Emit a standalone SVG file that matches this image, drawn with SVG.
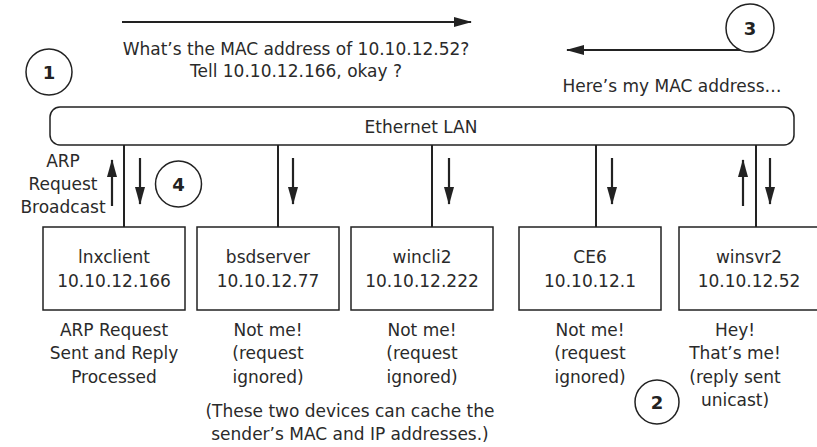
<svg xmlns="http://www.w3.org/2000/svg" width="817" height="447" viewBox="0 0 817 447">
<defs>
<style>
text{font-family:"DejaVu Sans","Liberation Sans",sans-serif;font-size:17px;fill:#2a2a2a;text-anchor:middle}
.num{font-weight:bold;font-size:18px;fill:#222}
.box{fill:#fff;stroke:#222;stroke-width:1.5}
.ln{stroke:#222;stroke-width:2;fill:none}
.arr{stroke:#222;stroke-width:2.2;fill:none;marker-end:url(#ah)}
.circ{fill:#fff;stroke:#222;stroke-width:1.5}
</style>
<marker id="ah" markerWidth="18" markerHeight="10" refX="17" refY="5" orient="auto" markerUnits="userSpaceOnUse">
<path d="M0,0 L18,5 L0,10 Z" fill="#222"/>
</marker>
</defs>

<g id="lan">
<rect class="box" x="50" y="107" width="744" height="38" rx="10"/>
<text x="421" y="133">Ethernet LAN</text>
</g>

<g id="connectors">
<line class="ln" x1="124" y1="145" x2="124" y2="227"/>
<line class="ln" x1="278" y1="145" x2="278" y2="227"/>
<line class="ln" x1="432" y1="145" x2="432" y2="227"/>
<line class="ln" x1="596" y1="145" x2="596" y2="227"/>
<line class="ln" x1="756" y1="145" x2="756" y2="227"/>
<line class="arr" x1="112" y1="206" x2="112" y2="160"/>
<line class="arr" x1="140" y1="158" x2="140" y2="204"/>
<line class="arr" x1="293" y1="158" x2="293" y2="204"/>
<line class="arr" x1="449" y1="158" x2="449" y2="204"/>
<line class="arr" x1="612" y1="158" x2="612" y2="204"/>
<line class="arr" x1="743" y1="206" x2="743" y2="160"/>
<line class="arr" x1="770" y1="158" x2="770" y2="204"/>
<line class="arr" x1="122" y1="22" x2="471" y2="22"/>
<line class="arr" x1="742" y1="50" x2="567" y2="50"/>
</g>

<g id="request-label">
<text x="296" y="55">What’s the MAC address of 10.10.12.52?</text>
<text x="296" y="77">Tell 10.10.12.166, okay ?</text>
</g>
<g id="reply-label">
<text x="672" y="92">Here’s my MAC address…</text>
</g>
<g id="broadcast-label">
<text x="63" y="167">ARP</text>
<text x="63" y="190">Request</text>
<text x="63" y="213">Broadcast</text>
</g>

<g id="lnxclient">
<rect class="box" x="43" y="227" width="142" height="83"/>
<text x="114" y="263">lnxclient</text>
<text x="114" y="287">10.10.12.166</text>
<text x="114" y="336">ARP Request</text>
<text x="114" y="359">Sent and Reply</text>
<text x="114" y="383">Processed</text>
</g>
<g id="bsdserver">
<rect class="box" x="197" y="227" width="142" height="83"/>
<text x="268" y="263">bsdserver</text>
<text x="268" y="287">10.10.12.77</text>
<text x="268" y="336">Not me!</text>
<text x="268" y="359">(request</text>
<text x="268" y="383">ignored)</text>
</g>
<g id="wincli2">
<rect class="box" x="351" y="227" width="142" height="83"/>
<text x="422" y="263">wincli2</text>
<text x="422" y="287">10.10.12.222</text>
<text x="422" y="336">Not me!</text>
<text x="422" y="359">(request</text>
<text x="422" y="383">ignored)</text>
</g>
<g id="ce6">
<rect class="box" x="519" y="227" width="142" height="83"/>
<text x="590" y="263">CE6</text>
<text x="590" y="287">10.10.12.1</text>
<text x="590" y="336">Not me!</text>
<text x="590" y="359">(request</text>
<text x="590" y="383">ignored)</text>
</g>
<g id="winsvr2">
<rect class="box" x="679" y="227" width="142" height="83"/>
<text x="749" y="263">winsvr2</text>
<text x="749" y="287">10.10.12.52</text>
<text x="735" y="336">Hey!</text>
<text x="735" y="359">That’s me!</text>
<text x="735" y="383">(reply sent</text>
<text x="735" y="406">unicast)</text>
</g>

<g id="cache-note">
<text x="350" y="417">(These two devices can cache the</text>
<text x="350" y="440">sender’s MAC and IP addresses.)</text>
</g>

<g id="step1"><circle class="circ" cx="49" cy="72" r="23"/><text class="num" x="49" y="79">1</text></g>
<g id="step2"><circle class="circ" cx="657" cy="402" r="22"/><text class="num" x="657" y="409">2</text></g>
<g id="step3"><circle class="circ" cx="750" cy="28" r="24"/><text class="num" x="750" y="35">3</text></g>
<g id="step4"><circle class="circ" cx="178.5" cy="184" r="23"/><text class="num" x="178.5" y="191">4</text></g>
</svg>
